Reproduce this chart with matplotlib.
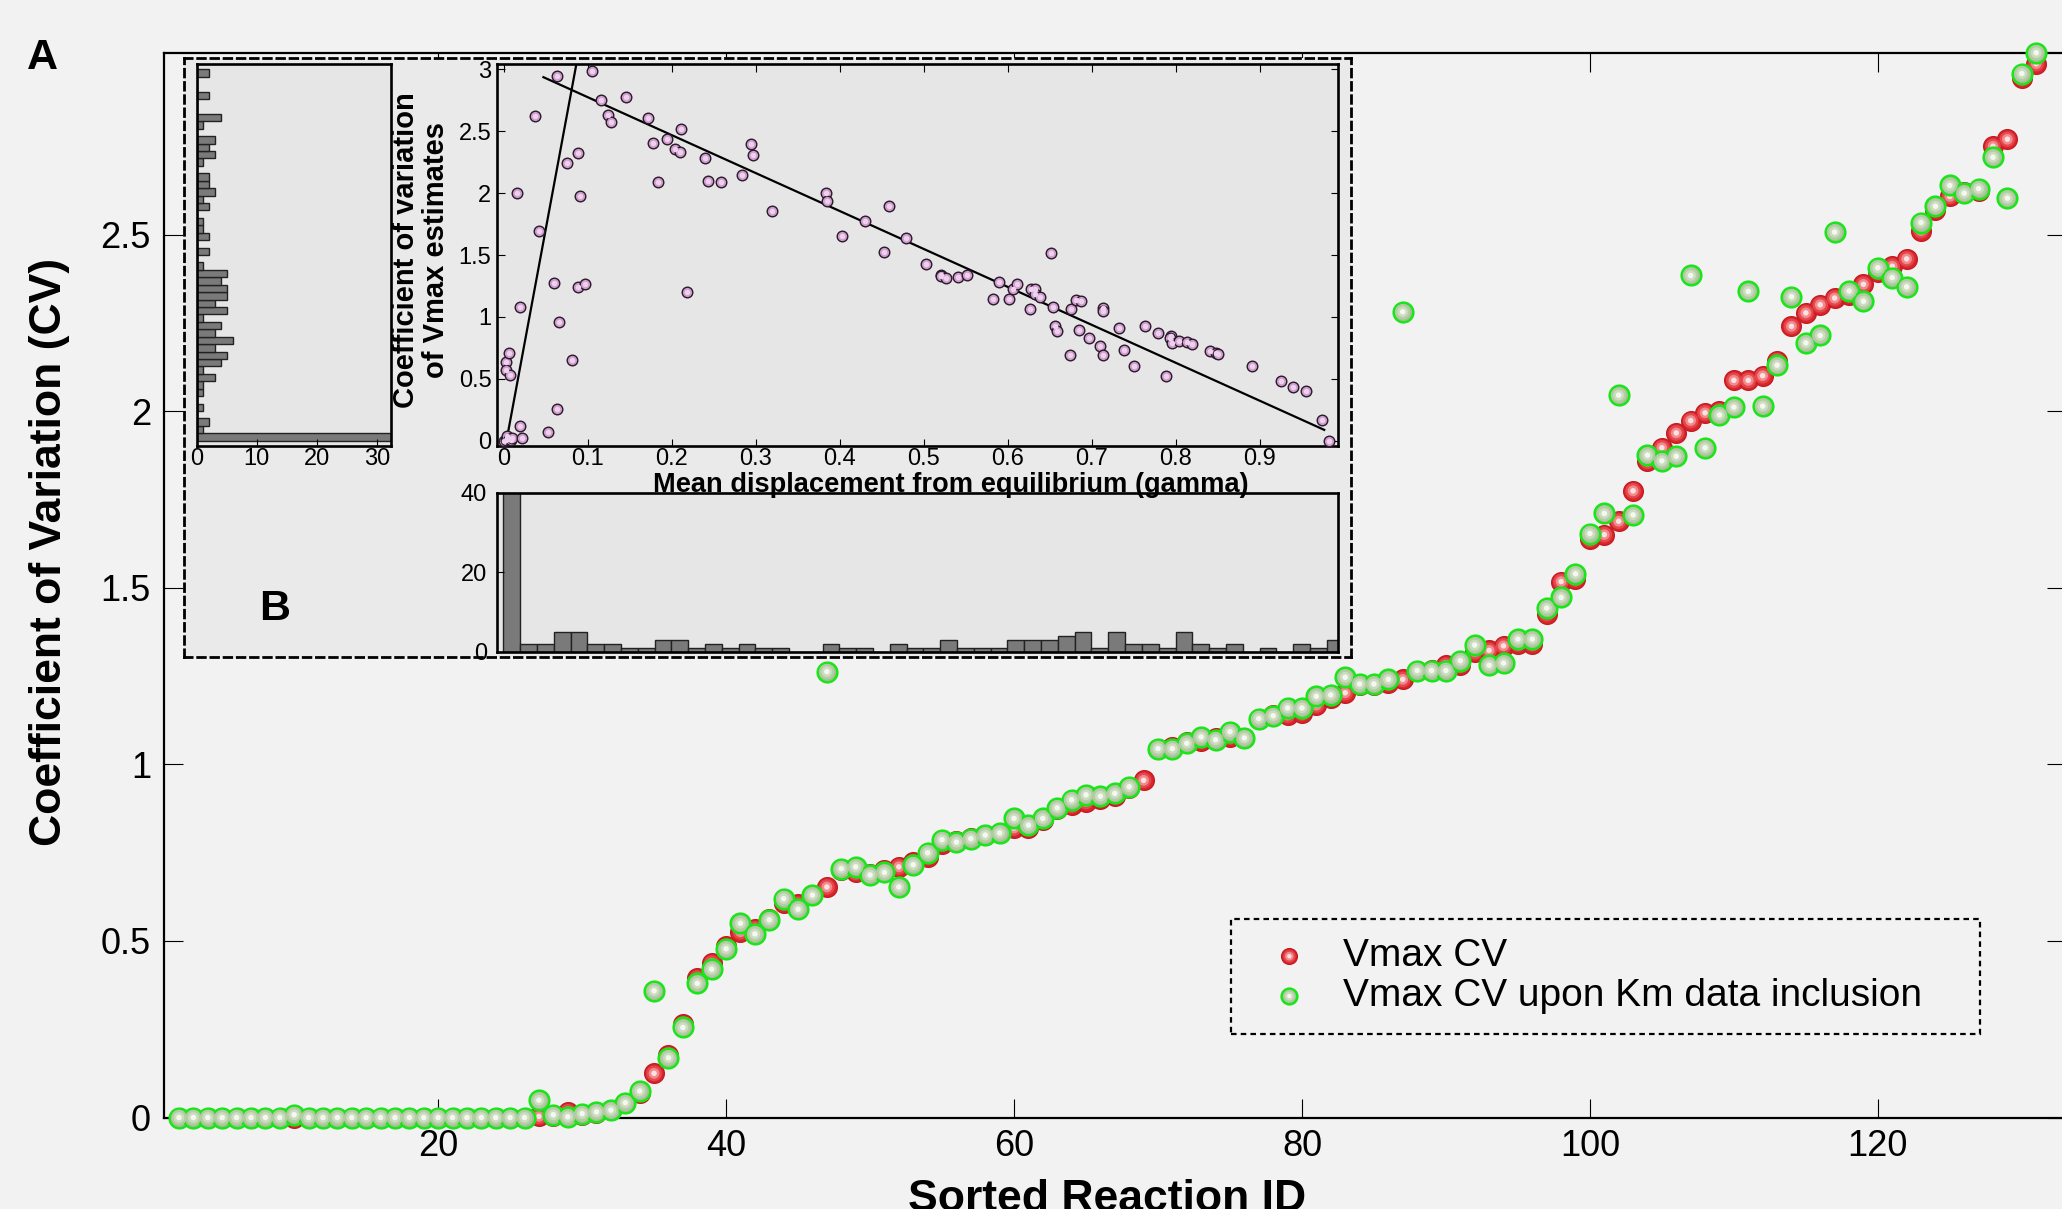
import matplotlib
matplotlib.use('Agg')
import matplotlib.pyplot as plt
import numpy as np

plt.rcParams['font.family'] = ['Liberation Sans', 'DejaVu Sans']
plt.rcParams['lines.scale_dashes'] = False

# main panel A: sorted reactions
reaction_id = np.arange(2, 132)
vmax_cv = [0, 0, 0, 0, 0, 0, 0, 0, 0, 0, 0, 0, 0, 0, 0, 0, 0, 0, 0, 0, 0, 0, 0, 0, 0,
           0.003, 0.005, 0.016, 0.008, 0.014, 0.020, 0.040, 0.070, 0.125, 0.177, 0.265,
           0.395, 0.437, 0.485, 0.526, 0.534, 0.563, 0.608, 0.604, 0.630, 0.653,
           0.700, 0.694, 0.690, 0.700, 0.710, 0.724, 0.739, 0.776, 0.784, 0.791,
           0.800, 0.806, 0.820, 0.820, 0.843, 0.873, 0.884, 0.895, 0.903, 0.910,
           0.933, 0.955, 1.045, 1.050, 1.063, 1.067, 1.075, 1.078, 1.075, 1.130,
           1.140, 1.140, 1.146, 1.168, 1.187, 1.203, 1.224, 1.226, 1.231, 1.241,
           1.266, 1.268, 1.281, 1.281, 1.319, 1.323, 1.336, 1.342, 1.342, 1.427,
           1.518, 1.525, 1.638, 1.651, 1.689, 1.775, 1.859, 1.897, 1.939, 1.974,
           1.996, 2.002, 2.088, 2.088, 2.101, 2.144, 2.241, 2.279, 2.302, 2.321,
           2.331, 2.360, 2.394, 2.411, 2.432, 2.512, 2.571, 2.609, 2.622, 2.624,
           2.751, 2.771, 2.944, 2.985]
vmax_cv_km = [0, 0, 0, 0, 0, 0, 0, 0, 0.008, 0, 0, 0, 0, 0, 0, 0, 0, 0, 0, 0, 0, 0, 0, 0, 0,
              0.049, 0.008, 0.002, 0.011, 0.016, 0.021, 0.042, 0.075, 0.359, 0.169, 0.255,
              0.380, 0.420, 0.478, 0.550, 0.520, 0.560, 0.620, 0.590, 0.630, 1.263,
              0.705, 0.710, 0.687, 0.694, 0.653, 0.716, 0.750, 0.787, 0.780, 0.790,
              0.800, 0.806, 0.847, 0.828, 0.847, 0.877, 0.900, 0.914, 0.910, 0.918,
              0.937, np.nan, 1.045, 1.045, 1.060, 1.078, 1.070, 1.093, 1.075, 1.130,
              1.138, 1.160, 1.160, 1.193, 1.197, 1.247, 1.228, 1.228, 1.241, 2.282,
              1.266, 1.266, 1.266, 1.294, 1.338, 1.281, 1.287, 1.355, 1.355, 1.443,
              1.473, 1.540, 1.654, 1.711, 2.046, 1.707, 1.876, 1.860, 1.873, 2.385,
              1.897, 1.990, 2.012, 2.340, 2.015, 2.131, 2.325, 2.194, 2.215, 2.508,
              2.341, 2.312, 2.407, 2.379, 2.353, 2.535, 2.581, 2.640, 2.618, 2.631,
              2.720, 2.604, 2.957, 3.016]
labels = ['Vmax CV', 'Vmax CV upon Km data inclusion']
main_xticks = [20, 40, 60, 80, 100, 120]
main_yticks = [0, 0.5, 1, 1.5, 2, 2.5]
main_yticklabels = ['0', '0.5', '1', '1.5', '2', '2.5']

# inset B: displacement vs CV
gamma = [0.000, 0.002, 0.004, 0.006, 0.008, 0.010, 0.003, 0.006, 0.003, 0.007,
         0.016, 0.019, 0.019, 0.022, 0.037, 0.042, 0.052, 0.060, 0.063, 0.063,
         0.066, 0.075, 0.081, 0.088, 0.088, 0.090, 0.097, 0.105, 0.116, 0.124,
         0.128, 0.145, 0.172, 0.177, 0.184, 0.194, 0.204, 0.210, 0.211, 0.218,
         0.240, 0.243, 0.259, 0.284, 0.294, 0.297, 0.319, 0.384, 0.385, 0.403,
         0.430, 0.453, 0.459, 0.479, 0.503, 0.520, 0.521, 0.526, 0.541, 0.552,
         0.583, 0.590, 0.601, 0.606, 0.611, 0.626, 0.628, 0.633, 0.633, 0.638,
         0.651, 0.654, 0.656, 0.659, 0.674, 0.676, 0.681, 0.687, 0.685, 0.697,
         0.710, 0.713, 0.714, 0.713, 0.732, 0.739, 0.750, 0.764, 0.779, 0.789,
         0.795, 0.793, 0.796, 0.804, 0.813, 0.820, 0.841, 0.848, 0.850, 0.891,
         0.926, 0.940, 0.955, 0.974, 0.983]
cv_est = [0.000, 0.008, 0.040, 0.015, 0.008, 0.020, 0.635, 0.710, 0.569, 0.534,
          2.000, 1.084, 0.123, 0.021, 2.624, 1.690, 0.072, 1.273, 0.259, 2.947,
          0.961, 2.242, 0.654, 2.322, 1.239, 1.975, 1.268, 2.987, 2.752, 2.629,
          2.571, 2.776, 2.608, 2.408, 2.088, 2.435, 2.360, 2.330, 2.517, 1.199,
          2.282, 2.101, 2.088, 2.144, 2.400, 2.304, 1.858, 2.002, 1.938, 1.652,
          1.775, 1.522, 1.893, 1.639, 1.428, 1.340, 1.332, 1.313, 1.319, 1.340,
          1.145, 1.279, 1.145, 1.225, 1.265, 1.065, 1.225, 1.225, 1.185, 1.164,
          1.516, 1.078, 0.926, 0.884, 0.694, 1.060, 1.140, 1.132, 0.894, 0.830,
          0.766, 0.689, 1.076, 1.049, 0.908, 0.734, 0.603, 0.926, 0.870, 0.526,
          0.846, 0.828, 0.790, 0.809, 0.801, 0.782, 0.721, 0.707, 0.702, 0.603,
          0.483, 0.435, 0.398, 0.168, 0.000]
fit1_x = [0.003, 0.0862]
fit1_y = [0.0, 3.04]
fit2_x = [0.047, 0.977]
fit2_y = [2.936, 0.088]

cv_bins = np.arange(0, 3, 0.06)
cv_counts = [37, 1, 2, 0, 1, 0, 1, 1, 3, 1, 4, 5, 3, 6, 3, 4, 1, 5, 3, 5,
             5, 4, 5, 1, 0, 2, 0, 2, 1, 1, 0, 2, 1, 3, 2, 2, 0, 1, 3, 2,
             3, 0, 1, 4, 0, 0, 2, 0, 0, 2]
gamma_bins = np.arange(0, 1, 0.02)
gamma_counts = [41, 2, 2, 5, 5, 2, 2, 1, 1, 3, 3, 1, 2, 1, 2, 1, 1, 0, 0, 2,
                1, 1, 0, 2, 1, 1, 3, 1, 1, 1, 3, 3, 3, 4, 5, 1, 5, 2, 2, 1,
                5, 2, 1, 2, 0, 1, 0, 2, 1, 3]

W, H = 2062, 1209
bg = '#f2f2f2'
inbg = '#e6e6e6'


def box(x0, y0, x1, y1):
    return [x0 / W, 1 - y1 / H, (x1 - x0) / W, (y1 - y0) / H]


fig = plt.figure(figsize=(W / 100, H / 100), dpi=100, facecolor=bg)

ax = fig.add_axes(box(164, 52.7, 2066, 1117.5), facecolor=bg)
ax.set_zorder(0)
red_style = [(200, '#d9262c', '#c41c22', 1.0), (125, '#e5474c', 'none', 0),
             (60, '#f08a8d', 'none', 0), (16, '#fde0e0', 'none', 0)]
green_style = [(200, '#a3bf91', '#19e619', 1.8), (125, '#b3cca4', 'none', 0),
               (60, '#cbdcbf', 'none', 0), (16, '#f4f8f0', 'none', 0)]
red_h = []
for s, fc, ec, lw in red_style:
    red_h.append(ax.scatter(reaction_id, vmax_cv, s=s, c=fc, edgecolors=ec,
                            linewidths=lw, clip_on=False, zorder=3))
green_h = []
for s, fc, ec, lw in green_style:
    green_h.append(ax.scatter(reaction_id, vmax_cv_km, s=s, c=fc, edgecolors=ec,
                              linewidths=lw, clip_on=False, zorder=4))

ax.set_xlim(0.96, 133.07)
ax.set_ylim(0, 3.016)
ax.set_xticks(main_xticks, [str(t) for t in main_xticks])
ax.set_yticks(main_yticks, main_yticklabels)
ax.tick_params(direction='in', top=True, right=True, length=13.7, width=0.8,
               labelsize=26)
ax.tick_params(axis='y', pad=9.4)
ax.tick_params(axis='x', pad=8.5)
for sp in ax.spines.values():
    sp.set_linewidth(1.6)
ax.set_xlabel('Sorted Reaction ID', fontsize=32, fontweight='bold')
ax.xaxis.set_label_coords(0.496, -0.058)
ax.set_ylabel('Coefficient of Variation (CV)', fontsize=32, fontweight='bold')
ax.yaxis.set_label_coords(-0.0496, 0.531)

leg = ax.legend([tuple(red_h), tuple(green_h)], labels, fontsize=28,
                loc='upper left', mode='expand', borderaxespad=0,
                bbox_to_anchor=(1231 / W, 1 - 1034 / H, 749 / W, 115 / H),
                bbox_transform=fig.transFigure, markerscale=0.8,
                borderpad=0.5, labelspacing=0.1, handlelength=2.0,
                handletextpad=0.37, fancybox=False, framealpha=1)
fr = leg.get_frame()
fr.set_facecolor(bg)
fr.set_edgecolor('black')
fr.set_linewidth(1.6)
fr.set_linestyle((0, (4, 3)))

# inset frame
axb = fig.add_axes(box(184.3, 57.7, 1350.7, 656.7), facecolor='#eaeaea')
axb.set_zorder(1)
axb.set_xticks([])
axb.set_yticks([])
for sp in axb.spines.values():
    sp.set_linestyle((0, (5.5, 4)))
    sp.set_linewidth(2.0)

# left histogram
axl = fig.add_axes(box(196.7, 64.3, 390.7, 445.7), facecolor=inbg)
axl.set_zorder(2)
axl.barh(cv_bins, cv_counts, height=0.06, align='edge', color='#7a7a7a',
         edgecolor='#222222', linewidth=1.0)
axl.set_ylim(-0.04, 3.04)
axl.set_xlim(0, 32.3)
axl.set_yticks([])
axl.set_xticks([0, 10, 20, 30], ['0', '10', '20', '30'])
axl.tick_params(direction='in', labelsize=17, length=5, pad=2)
for sp in axl.spines.values():
    sp.set_linewidth(1.9)

# bottom histogram
axh = fig.add_axes(box(496.5, 492.7, 1338.3, 652), facecolor=inbg)
axh.set_zorder(2)
axh.bar(gamma_bins, gamma_counts, width=0.02, align='edge', color='#7a7a7a',
        edgecolor='#222222', linewidth=1.0)
axh.set_xlim(-0.0083, 0.9938)
axh.set_ylim(0, 40)
axh.set_xticks([])
axh.set_yticks([0, 20, 40], ['0', '20', '40'])
axh.tick_params(direction='in', labelsize=17, length=5, pad=7)
for sp in axh.spines.values():
    sp.set_linewidth(1.9)

# scatter inset
axs = fig.add_axes(box(497, 64.3, 1338.3, 445.7), facecolor=inbg)
axs.set_zorder(3)
axs.plot(fit1_x, fit1_y, color='black', linewidth=1.6, zorder=2)
axs.plot(fit2_x, fit2_y, color='black', linewidth=1.6, zorder=2)
axs.scatter(gamma, cv_est, s=58, c='#cf9ccd', edgecolors='#2a1a2a',
            linewidths=1.0, zorder=3, clip_on=False)
axs.scatter(gamma, cv_est, s=16, c='#ecd2ec', linewidths=0, zorder=4,
            clip_on=False)
axs.set_xlim(-0.0083, 0.9938)
axs.set_ylim(-0.04, 3.04)
axs.set_xticks([0, 0.1, 0.2, 0.3, 0.4, 0.5, 0.6, 0.7, 0.8, 0.9],
               ['0', '0.1', '0.2', '0.3', '0.4', '0.5', '0.6', '0.7', '0.8', '0.9'])
axs.set_yticks([0, 0.5, 1, 1.5, 2, 2.5, 3],
               ['0', '0.5', '1', '1.5', '2', '2.5', '3'])
axs.tick_params(direction='in', top=True, right=True, labelsize=17, length=5.4)
axs.tick_params(axis='y', pad=4)
axs.tick_params(axis='x', pad=2)
for sp in axs.spines.values():
    sp.set_linewidth(1.9)
axs.text(-0.09, 0.513, 'Coefficient of variation\nof Vmax estimates',
         rotation=90, transform=axs.transAxes, ha='center', va='center',
         fontsize=21, fontweight='bold', linespacing=1.1,
         multialignment='center')
axs.text(0.5397, -0.1206, 'Mean displacement from equilibrium (gamma)',
         transform=axs.transAxes, ha='center', va='baseline', fontsize=19.6,
         fontweight='bold')

fig.text(42 / W, 1 - 58 / H, 'A', fontsize=31, fontweight='bold',
         ha='center', va='center')
fig.text(274.5 / W, 1 - 609 / H, 'B', fontsize=31, fontweight='bold',
         ha='center', va='center', zorder=5)

fig.savefig('out.png', dpi=100, facecolor=bg)
